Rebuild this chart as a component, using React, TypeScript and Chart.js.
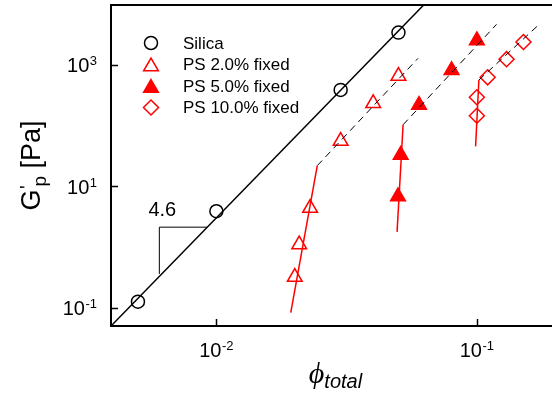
import React, { useEffect, useRef } from 'react';
import { Chart, registerables } from 'chart.js';

Chart.register(...registerables);

// ---- data ----
const silicaX = [0.005, 0.01, 0.03, 0.05];
const silicaY = [0.126, 3.9, 390, 3440];
const silicaFitX = [0.00394, 0.0625];
const silicaFitY = [0.05, 9800];
const slopeX = [0.00604, 0.00604, 0.0092];
const slopeY = [0.36, 2.13, 2.13];
const slopeLabel = '4.6';
const slopeLabelX = 0.0062;
const slopeLabelY = 4.05;

const ps2X = [0.02, 0.0208, 0.0229, 0.03, 0.04, 0.05];
const ps2Y = [0.32, 1.1, 4.4, 56, 235, 660];
const ps2SolidX = [0.0193, 0.0244];
const ps2SolidY = [0.083, 22];
const ps2DashX = [0.0244, 0.0594];
const ps2DashY = [22, 1290];

const ps5X = [0.0498, 0.051, 0.06, 0.08, 0.1];
const ps5Y = [6.8, 33, 220, 820, 2550];
const ps5SolidX = [0.0494, 0.0521];
const ps5SolidY = [1.78, 104];
const ps5DashX = [0.0521, 0.119];
const ps5DashY = [104, 4700];

const ps10X = [0.1, 0.1, 0.11, 0.13, 0.151];
const ps10Y = [146, 295, 629, 1254, 2410];
const ps10SolidX = [0.0989, 0.1018];
const ps10SolidY = [45.8, 567];
const ps10DashX = [0.1018, 0.1747];
const ps10DashY = [567, 4830];

const xMin = 0.00394;
const xMax = 0.1943;
const yMin = 0.05;
const yMax = 9800;

const xTickValues = [0.01, 0.1];
const xTickExps = ['-2', '-1'];
const yTickValues = [0.1, 10, 1000];
const yTickExps = ['-1', '1', '3'];

const legendLabels = ['Silica', 'PS 2.0% fixed', 'PS 5.0% fixed', 'PS 10.0% fixed'];

const RED = '#ff0000';
const BLACK = '#000000';
const SANS = 'Arial, "Liberation Sans", Helvetica, sans-serif';

const pts = (xs: number[], ys: number[]) => xs.map((x, i) => ({ x, y: ys[i] }));

function drawMarker(ctx: CanvasRenderingContext2D, kind: string, x: number, y: number) {
  ctx.save();
  ctx.lineWidth = 1.5;
  ctx.beginPath();
  if (kind === 'circle') {
    ctx.strokeStyle = BLACK;
    ctx.arc(x, y, 6.5, 0, Math.PI * 2);
    ctx.stroke();
  } else if (kind === 'tri' || kind === 'triFill') {
    const r = 8.5;
    ctx.strokeStyle = RED;
    ctx.fillStyle = RED;
    for (let k = 0; k < 3; k++) {
      const a = (k * 2 * Math.PI) / 3;
      const px = x + Math.sin(a) * r;
      const py = y - Math.cos(a) * r;
      if (k === 0) ctx.moveTo(px, py);
      else ctx.lineTo(px, py);
    }
    ctx.closePath();
    if (kind === 'triFill') ctx.fill();
    ctx.stroke();
  } else if (kind === 'diamond') {
    const r = 7.5;
    ctx.strokeStyle = RED;
    ctx.moveTo(x, y - r);
    ctx.lineTo(x + r, y);
    ctx.lineTo(x, y + r);
    ctx.lineTo(x - r, y);
    ctx.closePath();
    ctx.stroke();
  }
  ctx.restore();
}

function drawPow(
  ctx: CanvasRenderingContext2D,
  exp: string,
  x: number,
  baseline: number,
  align: 'right' | 'center'
) {
  ctx.save();
  ctx.fillStyle = BLACK;
  ctx.textBaseline = 'alphabetic';
  ctx.textAlign = 'left';
  ctx.font = `20px ${SANS}`;
  const wb = ctx.measureText('10').width;
  ctx.font = `13px ${SANS}`;
  const we = ctx.measureText(exp).width;
  const total = wb + we + 0.5;
  const left = align === 'right' ? x - total : x - total / 2;
  ctx.font = `20px ${SANS}`;
  ctx.fillText('10', left, baseline);
  ctx.font = `13px ${SANS}`;
  ctx.fillText(exp, left + wb + 0.5, baseline - 7);
  ctx.restore();
}

const decorPlugin = {
  id: 'decor',
  afterDraw(chart: any) {
    const ctx: CanvasRenderingContext2D = chart.ctx;
    const { left, right, top, bottom } = chart.chartArea;
    const xs = chart.scales.x;
    const ys = chart.scales.y;
    ctx.save();
    // top frame line
    ctx.strokeStyle = BLACK;
    ctx.lineWidth = 2;
    ctx.beginPath();
    ctx.moveTo(left - 1, top);
    ctx.lineTo(right + 2, top);
    ctx.stroke();

    // inward ticks
    ctx.lineWidth = 1.5;
    xTickValues.forEach((v) => {
      const px = Math.round(xs.getPixelForValue(v)) + 0.5;
      ctx.beginPath();
      ctx.moveTo(px, bottom);
      ctx.lineTo(px, bottom - 7);
      ctx.stroke();
    });
    yTickValues.forEach((v) => {
      const py = Math.round(ys.getPixelForValue(v)) + 0.5;
      ctx.beginPath();
      ctx.moveTo(left, py);
      ctx.lineTo(left + 7, py);
      ctx.stroke();
    });

    // tick labels
    xTickValues.forEach((v, i) => {
      drawPow(ctx, xTickExps[i], xs.getPixelForValue(v), bottom + 31, 'center');
    });
    yTickValues.forEach((v, i) => {
      drawPow(ctx, yTickExps[i], left - 14, ys.getPixelForValue(v) + 7.2, 'right');
    });

    // slope label
    ctx.fillStyle = BLACK;
    ctx.font = `20px ${SANS}`;
    ctx.textAlign = 'center';
    ctx.textBaseline = 'middle';
    ctx.fillText(slopeLabel, xs.getPixelForValue(slopeLabelX), ys.getPixelForValue(slopeLabelY));

    // y-axis title
    ctx.save();
    const cy = (top + bottom) / 2;
    ctx.translate(40, cy);
    ctx.rotate(-Math.PI / 2);
    ctx.textAlign = 'left';
    ctx.textBaseline = 'alphabetic';
    ctx.font = `27px ${SANS}`;
    const wG = ctx.measureText('G').width;
    ctx.font = `19px ${SANS}`;
    const wp = ctx.measureText('p').width;
    ctx.font = `27px ${SANS}`;
    const wRest = ctx.measureText(' [Pa]').width;
    const totalW = wG + 3 + wp + wRest;
    let tx = -totalW / 2;
    ctx.fillText('G', tx, 0);
    ctx.font = `20px ${SANS}`;
    ctx.fillText("'", tx + wG + 0.5, -6);
    ctx.font = `19px ${SANS}`;
    ctx.fillText('p', tx + wG + 3, 6);
    ctx.font = `27px ${SANS}`;
    ctx.fillText(' [Pa]', tx + wG + 3 + wp, 0);
    ctx.restore();

    // x-axis title
    ctx.textAlign = 'left';
    ctx.textBaseline = 'alphabetic';
    ctx.font = `italic 30px "Liberation Serif", "DejaVu Serif", serif`;
    const wPhi = ctx.measureText('\u03D5').width;
    ctx.font = `italic 20px ${SANS}`;
    const wTot = ctx.measureText('total').width;
    const cx = (left + right) / 2 + 4;
    const sx = cx - (wPhi + wTot) / 2;
    ctx.font = `italic 30px "Liberation Serif", "DejaVu Serif", serif`;
    ctx.fillText('\u03D5', sx, 383);
    ctx.font = `italic 20px ${SANS}`;
    ctx.fillText('total', sx + wPhi, 388);

    // legend
    const kinds = ['circle', 'tri', 'triFill', 'diamond'];
    const rowsY = [43, 64.5, 86, 107.5];
    ctx.font = `17px ${SANS}`;
    ctx.textBaseline = 'middle';
    ctx.fillStyle = BLACK;
    legendLabels.forEach((lab, i) => {
      drawMarker(ctx, kinds[i], 151, rowsY[i] + (kinds[i] === 'circle' || kinds[i] === 'diamond' ? 0 : 2));
      ctx.fillStyle = BLACK;
      ctx.fillText(lab, 183, rowsY[i] + 1);
    });
    ctx.restore();
  },
};

export default function App() {
  const ref = useRef<HTMLCanvasElement | null>(null);
  useEffect(() => {
    if (!ref.current) return;
    const lineDs = (xs: number[], ys: number[], color: string, dashed: boolean, width: number) => ({
      data: pts(xs, ys),
      showLine: true,
      borderColor: color,
      borderWidth: width,
      borderDash: dashed ? [7, 5] : [],
      pointRadius: 0,
      fill: false,
    });
    const chart = new Chart(ref.current, {
      type: 'scatter',
      data: {
        datasets: [
          lineDs(silicaFitX, silicaFitY, BLACK, false, 1.5),
          lineDs(slopeX, slopeY, BLACK, false, 1),
          lineDs(ps2SolidX, ps2SolidY, RED, false, 1.5),
          lineDs(ps2DashX, ps2DashY, BLACK, true, 1),
          lineDs(ps5SolidX, ps5SolidY, RED, false, 1.5),
          lineDs(ps5DashX, ps5DashY, BLACK, true, 1),
          lineDs(ps10SolidX, ps10SolidY, RED, false, 1.5),
          lineDs(ps10DashX, ps10DashY, BLACK, true, 1),
          {
            label: legendLabels[0],
            data: pts(silicaX, silicaY),
            pointStyle: 'circle',
            pointRadius: 6.5,
            borderWidth: 1.5,
            borderColor: BLACK,
            backgroundColor: 'rgba(0,0,0,0)',
          },
          {
            label: legendLabels[1],
            data: pts(ps2X, ps2Y),
            pointStyle: 'triangle',
            pointRadius: 8.5,
            borderWidth: 1.5,
            borderColor: RED,
            backgroundColor: 'rgba(0,0,0,0)',
          },
          {
            label: legendLabels[2],
            data: pts(ps5X, ps5Y),
            pointStyle: 'triangle',
            pointRadius: 8.5,
            borderWidth: 1.5,
            borderColor: RED,
            backgroundColor: RED,
          },
          {
            label: legendLabels[3],
            data: pts(ps10X, ps10Y),
            pointStyle: 'rectRot',
            pointRadius: 7.5,
            borderWidth: 1.5,
            borderColor: RED,
            backgroundColor: 'rgba(0,0,0,0)',
          },
        ],
      },
      options: {
        animation: false,
        responsive: false,
        maintainAspectRatio: false,
        devicePixelRatio: 1,
        layout: { autoPadding: false, padding: { left: 111, top: 5, right: 0, bottom: 75 } },
        plugins: {
          legend: { display: false },
          tooltip: { enabled: false },
        },
        events: [],
        scales: {
          x: {
            type: 'logarithmic',
            min: xMin,
            max: xMax,
            ticks: { display: false },
            grid: { display: false },
            border: { display: true, color: BLACK, width: 2 },
            afterFit: (s: any) => {
              s.height = 0;
            },
          },
          y: {
            type: 'logarithmic',
            min: yMin,
            max: yMax,
            ticks: { display: false },
            grid: { display: false },
            border: { display: true, color: BLACK, width: 2 },
            afterFit: (s: any) => {
              s.width = 0;
            },
          },
        },
      },
      plugins: [decorPlugin],
    });
    return () => chart.destroy();
  }, []);
  return (
    <div style={{ position: 'fixed', left: 0, top: 0, width: 552, height: 401, background: '#fff' }}>
      <canvas ref={ref} width={552} height={401} style={{ width: 552, height: 401, display: 'block' }} />
    </div>
  );
}
